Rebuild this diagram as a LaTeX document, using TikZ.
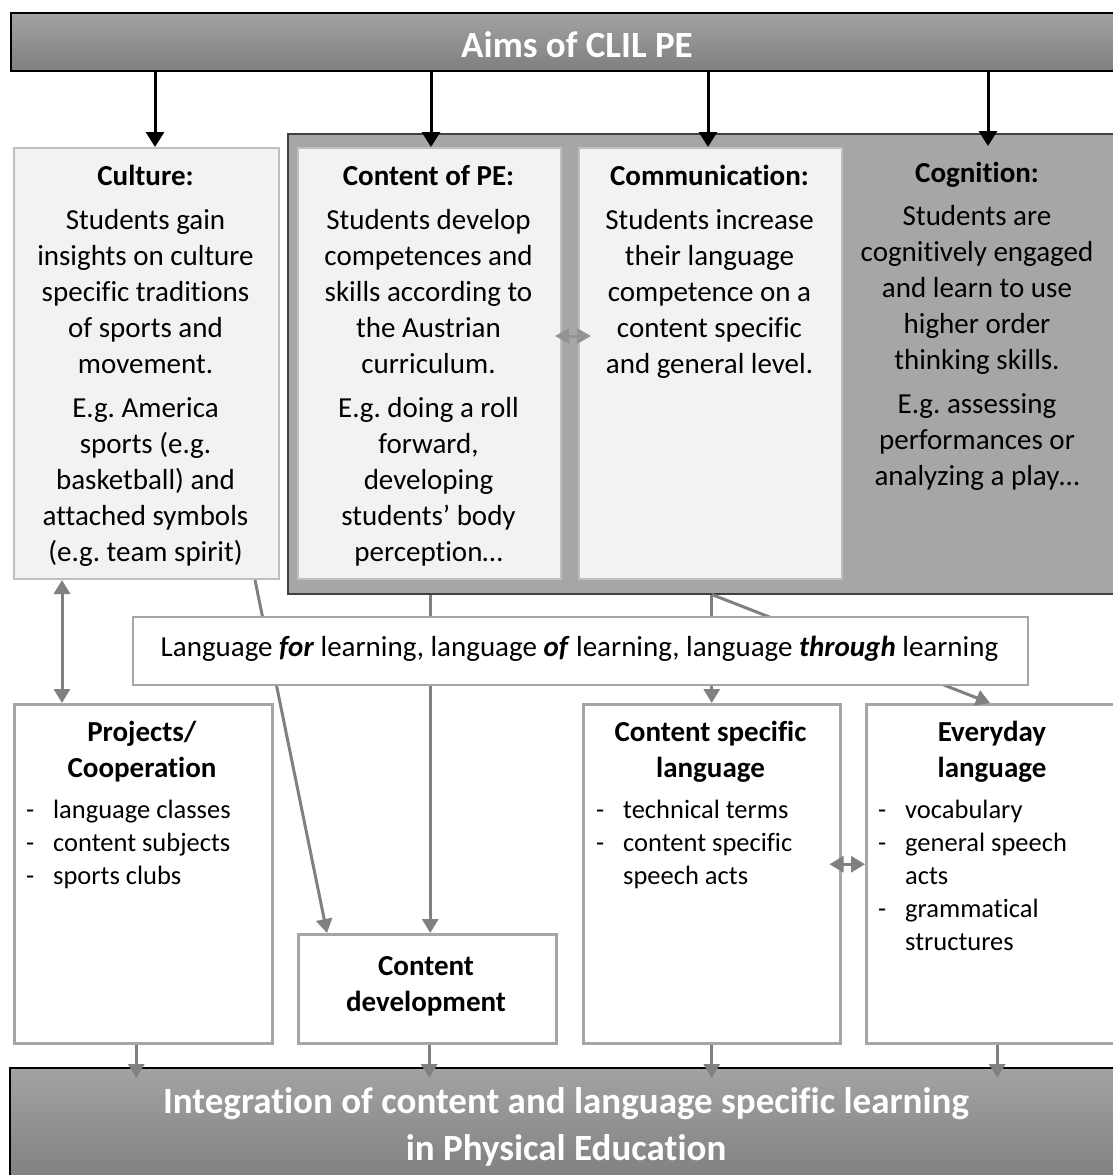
\documentclass[tikz,border=0pt]{standalone}
\usepackage{fontspec}
\setmainfont{Carlito}[Ligatures=NoCommon]
\frenchspacing
\usetikzlibrary{arrows.meta,calc}
\definecolor{barTop}{HTML}{A3A3A3}
\definecolor{barBot}{HTML}{7F7F7F}
\definecolor{cogGray}{HTML}{A6A6A6}
\definecolor{boxFill}{HTML}{F2F2F2}
\definecolor{boxLine}{HTML}{BFBFBF}
\definecolor{lowLine}{HTML}{A6A6A6}
\definecolor{conGray}{HTML}{808080}
\definecolor{edgeDark}{HTML}{404040}
\begin{document}
\begin{tikzpicture}[x=1pt,y=-1pt,
  bar/.style={draw=black, line width=1.5pt, top color=barTop, bottom color=barBot, inner sep=0pt, anchor=north west},
  cogbox/.style={draw=edgeDark, line width=1.5pt, fill=cogGray, inner sep=0pt, anchor=north west},
  upbox/.style={draw=boxLine, line width=2pt, fill=boxFill, inner sep=0pt, anchor=north west},
  lowbox/.style={draw=lowLine, line width=2.5pt, fill=white, inner sep=0pt, anchor=north west},
  body/.style={font=\fontsize{29}{36}\selectfont\frenchspacing, align=center, inner sep=0pt, anchor=north},
  listtxt/.style={font=\fontsize{26.5}{33}\selectfont, align=left, inner sep=0pt, anchor=north west},
  bigtxt/.style={font=\fontsize{37}{47}\selectfont\bfseries, text=white, align=center, inner sep=0pt},
  blkarrow/.style={draw=black, line width=3pt, -{Triangle[width=18pt,length=15pt]}},
  grayarrow/.style={draw=conGray, line width=3pt, -{Triangle[width=16pt,length=14pt]}},
  graydbl/.style={draw=conGray, line width=3pt, {Triangle[width=16pt,length=14pt]}-{Triangle[width=16pt,length=14pt]}},
  graydblsmall/.style={draw=conGray!85, line width=3pt, {Triangle[width=15pt,length=14pt]}-{Triangle[width=15pt,length=14pt]}}
]
\useasboundingbox (0,0) rectangle (1113,1175);

% bars and background
\node[bar, minimum width=1112pt, minimum height=58pt] (aims) at (10,12) {};
\node[bigtxt, anchor=base] (aimstxt) at (577,57) {Aims of CLIL PE};
\node[cogbox, minimum width=835pt, minimum height=460pt] (cogbg) at (287,133) {};
\node[bar, minimum width=1113pt, minimum height=115pt] (bottom) at (9,1067) {};
\node[bigtxt, anchor=north] (bottomtxt) at (566,1080.1) {\strut Integration of content and language specific learning\\in Physical Education};

% upper boxes
\node[upbox, minimum width=265pt, minimum height=431pt] (culture) at (13,147) {};
\node[upbox, minimum width=263pt, minimum height=431pt] (content) at (297,147) {};
\node[upbox, minimum width=263pt, minimum height=431pt] (comm) at (578,147) {};
\coordinate (cogtop) at (988,146);

\node[body] (culturetxt) at (145.5,159.8) {\strut\textbf{Culture:}\\[8pt]Students gain\\insights on culture\\specific traditions\\of sports and\\movement.\\[8pt]E.g. America\\sports (e.g.\\basketball) and\\attached symbols\\(e.g. team spirit)};
\node[body] (contenttxt) at (428.5,159.8) {\strut\textbf{Content of PE:}\\[8pt]Students develop\\competences and\\skills according to\\the Austrian\\curriculum.\\[8pt]E.g. doing a roll\\forward,\\developing\\students’ body\\perception…};
\node[body] (commtxt) at (709.5,159.8) {\strut\textbf{Communication:}\\[8pt]Students increase\\their language\\competence on a\\content specific\\and general level.};
\node[body] (cogtxt) at (977,156.8) {\strut\textbf{Cognition:}\\[7pt]Students are\\cognitively engaged\\and learn to use\\higher order\\thinking skills.\\[8pt]E.g. assessing\\performances or\\analyzing a play…};

% lower boxes
\node[lowbox, minimum width=258pt, minimum height=339pt] (projects) at (13,703) {};
\node[lowbox, minimum width=258pt, minimum height=109pt] (contdev) at (297,933) {};
\node[lowbox, minimum width=257pt, minimum height=339pt] (csl) at (582,703) {};
\node[lowbox, minimum width=255pt, minimum height=339pt] (everyday) at (865,703) {};

\node[body] (projectshead) at (142,715.8) {\strut\textbf{Projects/}\\\textbf{Cooperation}};
\node[listtxt] (projectslist) at (26,794.9) {\strut\makebox[27pt][l]{-}language classes\\\makebox[27pt][l]{-}content subjects\\\makebox[27pt][l]{-}sports clubs};
\node[body] (contdevtxt) at (426,949.8) {\strut\textbf{Content}\\\textbf{development}};
\node[body] (cslhead) at (710.5,715.8) {\strut\textbf{Content specific}\\\textbf{language}};
\node[listtxt] (csllist) at (596,794.9) {\strut\makebox[27pt][l]{-}technical terms\\\makebox[27pt][l]{-}content specific\\\hspace*{27pt}speech acts};
\node[body] (everydayhead) at (992,715.8) {\strut\textbf{Everyday}\\\textbf{language}};
\node[listtxt] (everydaylist) at (878,794.9) {\strut\makebox[27pt][l]{-}vocabulary\\\makebox[27pt][l]{-}general speech\\\hspace*{27pt}acts\\\makebox[27pt][l]{-}grammatical\\\hspace*{27pt}structures};

% gray connectors (behind the language box)
\draw[graydbl] ([xshift=49pt]culture.south west) -- ([xshift=49pt]culture.south west |- projects.north);
\draw[grayarrow] ([xshift=-25pt]culture.south east) -- ([xshift=30pt]contdev.north west);
\draw[grayarrow] ([xshift=3pt]contdev.north |- cogbg.south) -- ([xshift=3pt]contdev.north);
\draw[grayarrow] (csl.north |- cogbg.south) -- (csl.north);
\draw[grayarrow] (csl.north |- cogbg.south) -- ([xshift=125pt]everyday.north west);

% language box
\node[lowbox, draw=lowLine, line width=2pt, minimum width=895pt, minimum height=68pt] (lang) at (132,616) {};
\node[font=\fontsize{29}{36}\selectfont, inner sep=0pt, anchor=base] (langtxt) at (579.5,656) {Language \textbf{\textit{for}} learning, language \textbf{\textit{of}} learning, language \textbf{\textit{through}} learning};

% double arrows over boxes
\draw[graydblsmall] ([shift={(-7,-27.5)}]content.east) -- ([shift={(13,-27.5)}]comm.west);
\draw[graydbl] ([shift={(-12,-9.5)}]csl.east) -- ([shift={(0,-9.5)}]everyday.west);

% black arrows from the aims bar
\draw[blkarrow] ([xshift=8.5pt]culture.north |- aims.south) -- ([xshift=8.5pt]culture.north);
\draw[blkarrow] ([xshift=1.5pt]content.north |- aims.south) -- ([xshift=1.5pt]content.north);
\draw[blkarrow] ([xshift=-2.5pt]comm.north |- aims.south) -- ([xshift=-2.5pt]comm.north);
\draw[blkarrow] (cogtop |- aims.south) -- (cogtop);

% arrows into the bottom bar
\draw[grayarrow, shorten >=-11pt] ([xshift=-7pt]projects.south) -- ([xshift=-7pt]projects.south |- bottom.north);
\draw[grayarrow, shorten >=-11pt] ([xshift=2pt]contdev.south) -- ([xshift=2pt]contdev.south |- bottom.north);
\draw[grayarrow, shorten >=-11pt] (csl.south) -- (csl.south |- bottom.north);
\draw[grayarrow, shorten >=-11pt] ([xshift=3.5pt]everyday.south) -- ([xshift=3.5pt]everyday.south |- bottom.north);
\end{tikzpicture}
\end{document}
